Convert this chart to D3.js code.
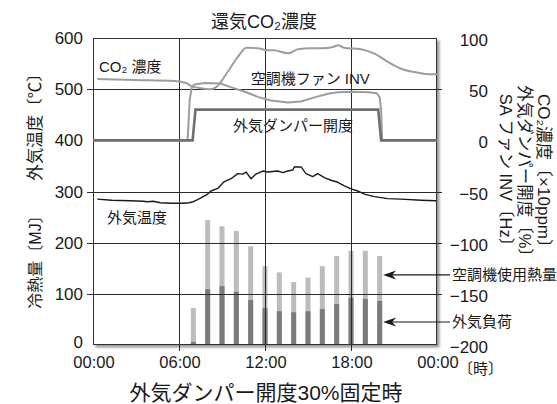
<!DOCTYPE html>
<html><head><meta charset="utf-8">
<script src="https://cdnjs.cloudflare.com/ajax/libs/d3/7.8.5/d3.min.js"></script>
<style>
html,body{margin:0;padding:0;background:#fff;}
svg{display:block;font-family:"Liberation Sans","Noto Sans CJK JP",sans-serif;}
</style></head>
<body>
<svg id="chart" width="557" height="404"></svg>
<script>
// ---- data ----
const barHours = [7,8,9,10,11,12,13,14,15,16,17,18,19,20];
const heatUse  = [72,244,232,223,193,154,142,123,132,154,174,184,184,174]; // 空調機使用熱量 [MJ]
const oaLoad   = [6,109,115,104,88,72,66,64,66,70,80,92,90,86];             // 外気負荷 [MJ]

const tempPts = [[0.3,285],[1.3,283],[2.6,282],[3.5,281],[3.8,280],[4.2,281],[4.7,278],[5.5,277],[6.3,277],[6.7,278],[7.0,280],[7.3,284],[7.75,291],[8.0,295],[8.23,301],[8.7,306],[9.14,319],[9.63,325],[10.1,335],[10.45,334],[10.68,338],[11.03,325],[11.37,334],[11.84,340],[12.19,338],[12.89,340],[13.24,337],[13.59,340],[13.94,342],[14.05,348],[14.52,348],[14.86,335],[15.33,329],[15.68,335],[16.14,327],[16.61,322],[17.08,318],[17.54,311],[18.0,305],[18.47,301],[18.93,295],[19.63,290],[20.56,286],[21.49,285],[22.89,283],[23.94,282]];
const co2Pts = [[0.3,60],[2.9,59],[5.7,58],[6.5,56],[6.85,53],[7.5,51],[8.2,50],[8.6,52],[9.4,67],[10.1,81.5],[10.7,90.5],[11.5,90],[12.2,88],[12.6,88],[13.6,85],[14.3,89],[15.2,90],[16.0,90],[16.8,91.5],[17.1,93],[17.5,90.5],[18.7,89],[19.6,85],[20.6,76.5],[21.5,70],[22.7,66],[23.4,64.5],[24,64.5]];
const fanPts = [[0,0],[6.6,0],[6.75,40],[6.9,52],[7.07,54.5],[7.8,56],[8.9,55.5],[9.6,52],[10.6,47.5],[11.5,42.5],[12.4,39],[13.6,37],[14.5,38],[15.45,42],[16.4,45.5],[17.1,47],[18.0,47.5],[19.2,47],[19.8,46],[20.0,42],[20.1,30],[20.17,0],[24,0]];
const damperPts = [[0,0],[6.95,0],[7.15,30],[19.9,30],[20.1,0],[24,0]];

const xTicks = [0,6,12,18,24];
const xTickLabels = ["00:00","06:00","12:00","18:00","00:00"];
const leftTicks = [0,100,200,300,400,500,600];
const rightTicks = [-200,-150,-100,-50,0,50,100];
const gridLeft = [100,200,300,500];

// ---- layout ----
const svg = d3.select("#chart");
const X0=93, X1=437, Y0=38, Y1=345;
const x = d3.scaleLinear().domain([0,24]).range([X0,X1]);
const yL = d3.scaleLinear().domain([0,600]).range([Y1,Y0]);
const yR = d3.scaleLinear().domain([-200,100]).range([Y1,Y0]);

// shadow
const defs = svg.append("defs");
defs.append("filter").attr("id","blur").append("feGaussianBlur").attr("stdDeviation",1.3);
svg.append("rect").attr("x",X0+2.5).attr("y",Y0+2.5).attr("width",X1-X0).attr("height",Y1-Y0)
  .attr("fill","#9a9a9a").attr("filter","url(#blur)");
svg.append("rect").attr("x",X0).attr("y",Y0).attr("width",X1-X0).attr("height",Y1-Y0).attr("fill","#fff");

// bars
const bw = 5;
svg.append("g").selectAll("rect").data(barHours).join("rect")
  .attr("x",(d)=>x(d)-bw/2).attr("width",bw)
  .attr("y",(d,i)=>yL(heatUse[i])).attr("height",(d,i)=>yL(0)-yL(heatUse[i]))
  .attr("fill","#bcbcbe");
svg.append("g").selectAll("rect").data(barHours).join("rect")
  .attr("x",(d)=>x(d)-bw/2).attr("width",bw)
  .attr("y",(d,i)=>yL(oaLoad[i])).attr("height",(d,i)=>yL(0)-yL(oaLoad[i]))
  .attr("fill","#7b7b7d");

// grid
const g = svg.append("g").attr("stroke","#2a2a2a").attr("stroke-width",1);
gridLeft.forEach(v=>{
  g.append("line").attr("x1",X0-6).attr("x2",X1+5).attr("y1",Math.round(yL(v))+0.5).attr("y2",Math.round(yL(v))+0.5);
});
[6,12,18].forEach(h=>{
  g.append("line").attr("x1",Math.round(x(h))+0.5).attr("x2",Math.round(x(h))+0.5).attr("y1",Y0).attr("y2",Y1+6);
});

// frame
svg.append("rect").attr("x",X0+0.5).attr("y",Y0+0.5).attr("width",X1-X0-1).attr("height",Y1-Y0-1)
  .attr("fill","none").attr("stroke","#333").attr("stroke-width",1);

// lines
const lineL = d3.line().x(d=>x(d[0])).y(d=>yL(d[1])).curve(d3.curveLinear);
const lineR = d3.line().x(d=>x(d[0])).y(d=>yR(d[1])).curve(d3.curveMonotoneX);
const lineRs = d3.line().x(d=>x(d[0])).y(d=>yR(d[1])).curve(d3.curveLinear);
svg.append("path").attr("d",lineR(co2Pts)).attr("fill","none").attr("stroke","#9d9d9d").attr("stroke-width",2);
svg.append("path").attr("d",lineRs(fanPts)).attr("fill","none").attr("stroke","#9d9d9d").attr("stroke-width",2).attr("stroke-linejoin","round");
svg.append("path").attr("d",lineRs(damperPts)).attr("fill","none").attr("stroke","#6f6f6f").attr("stroke-width",2.6);
svg.append("path").attr("d",lineL(tempPts)).attr("fill","none").attr("stroke","#1a1a1a").attr("stroke-width",1.4).attr("stroke-linejoin","round");

// tick labels
const tl = svg.append("g").attr("fill","#1a1a1a").attr("font-size",17);
leftTicks.forEach(v=>{
  tl.append("text").attr("x",83).attr("y",yL(v)).attr("dy",v===0?"0.2em":"0.36em").attr("text-anchor","end").text(v);
});
rightTicks.forEach(v=>{
  tl.append("text").attr("x",488).attr("y",yR(v)+2).attr("dy","0.36em").attr("text-anchor","end").text(v<0?"\u2212"+(-v):v);
});
xTicks.forEach((h,i)=>{
  tl.append("text").attr("x",x(h)+1).attr("y",368).attr("font-size",16.5).attr("text-anchor","middle").text(xTickLabels[i]);
});
svg.append("text").attr("x",458).attr("y",374).attr("font-size",15).attr("fill","#1a1a1a").text("〔時〕");

// titles
svg.append("text").attr("x",264).attr("y",28).attr("text-anchor","middle").attr("font-size",18).attr("fill","#1a1a1a").text("還気CO₂濃度");
svg.append("text").attr("x",266).attr("y",400).attr("text-anchor","middle").attr("font-size",21).attr("fill","#1a1a1a").text("外気ダンパー開度30%固定時");

// axis titles
const at = (tx,ty,rot,txt,fs)=>svg.append("text").attr("transform",`translate(${tx},${ty}) rotate(${rot})`)
  .attr("text-anchor","middle").attr("dominant-baseline","central").attr("font-size",fs).attr("fill","#1a1a1a").text(txt);
at(35,123,-90,"外気温度〔℃〕",16.5);
at(35,258,-90,"冷熱量〔MJ〕",16);
at(543,175,90,"CO₂濃度〔×10ppm〕",17);
at(525,175,90,"外気ダンパー開度〔%〕",16.5);
at(506,174,90,"SA ファン INV〔Hz〕",16.5);

// in-plot labels
const lab = (h,v,txt)=>svg.append("text").attr("x",x(h)).attr("y",yL(v)).attr("font-size",15).attr("fill","#1a1a1a").text(txt);
lab(0.42,533,"CO₂ 濃度");
lab(11.0,510,"空調機ファン INV");
lab(9.77,418,"外気ダンパー開度");
lab(0.98,238,"外気温度");

// annotations with arrows
const notes = [{label:"空調機使用熱量", value:137},{label:"外気負荷", value:45}];
const tipH = 20.24;
notes.forEach(n=>{
  const ty = yL(n.value), tx = x(tipH);
  svg.append("line").attr("x1",tx+8).attr("x2",450).attr("y1",ty).attr("y2",ty).attr("stroke","#1a1a1a").attr("stroke-width",1.2);
  svg.append("path").attr("d",`M${tx},${ty} L${tx+13},${ty-4.5} L${tx+9},${ty} L${tx+13},${ty+4.5} Z`).attr("fill","#1a1a1a");
  svg.append("text").attr("x",452).attr("y",ty+5.5).attr("font-size",15).attr("fill","#1a1a1a").text(n.label);
});
</script>
</body></html>
